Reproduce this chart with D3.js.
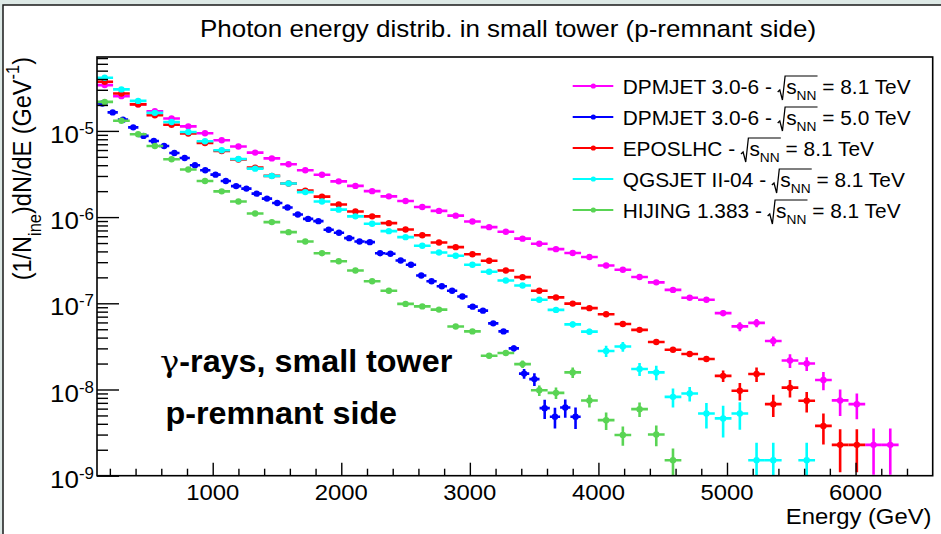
<!DOCTYPE html>
<html>
<head>
<meta charset="utf-8">
<script src="https://cdn.jsdelivr.net/npm/d3@7"></script>
<style>
  html, body { margin: 0; padding: 0; background: #fff; }
  svg text { font-family: "Liberation Sans", Arial, Helvetica, sans-serif; fill: #000; white-space: pre; }
</style>
</head>
<body>
<div id="chart"></div>
<script>
// bin centres in GeV (x_F binning -> 130 GeV bins at 8.1 TeV, 80 GeV bins at 5.0 TeV)
const binCenters81 = [160, 290, 420, 550, 680, 810, 940, 1070, 1200, 1330, 1460, 1590, 1720, 1850, 1980, 2110,
  2240, 2370, 2500, 2630, 2760, 2890, 3020, 3150, 3280, 3410, 3540, 3670, 3800, 3930, 4060, 4190,
  4320, 4450, 4580, 4710, 4840, 4970, 5100, 5230, 5360, 5490, 5620, 5750, 5880, 6010, 6140, 6270];
const binCenters50 = [142, 222, 302, 382, 462, 542, 622, 702, 782, 862, 942, 1022, 1102, 1182, 1262, 1342,
  1422, 1502, 1582, 1662, 1742, 1822, 1902, 1982, 2062, 2142, 2222, 2302, 2382, 2462, 2542, 2622,
  2702, 2782, 2862, 2942, 3022, 3102, 3182, 3262, 3342, 3422, 3502, 3582, 3662, 3742, 3822];
const binWidth81 = 130;
const binWidth50 = 80;

// (1/N_ine) dN/dE values, relative errors next to them
const dpmjet81 = [3.40e-5, 2.53e-5, 2.04e-5, 1.69e-5, 1.39e-5, 1.13e-5, 9.4e-6, 7.8e-6, 6.6e-6, 5.6e-6, 4.8e-6, 4.1e-6,
  3.5e-6, 3.1e-6, 2.6e-6, 2.3e-6, 2.0e-6, 1.74e-6, 1.54e-6, 1.31e-6, 1.18e-6, 1.04e-6, 8.9e-7, 7.65e-7,
  6.77e-7, 5.62e-7, 4.91e-7, 4.25e-7, 3.83e-7, 3.44e-7, 2.74e-7, 2.45e-7, 2.02e-7, 1.75e-7, 1.43e-7, 1.16e-7,
  1.10e-7, 7.7e-8, 5.4e-8, 5.93e-8, 3.65e-8, 2.17e-8, 2.0e-8, 1.29e-8, 7.47e-9, 6.76e-9, 2.28e-9, 2.28e-9];
const dpmjet81Err = [0.01, 0.01, 0.01, 0.01, 0.01, 0.01, 0.01, 0.01, 0.01, 0.01, 0.01, 0.01, 0.01, 0.01, 0.01, 0.01,
  0.01, 0.01, 0.01, 0.01, 0.02, 0.02, 0.02, 0.02, 0.02, 0.02, 0.02, 0.02, 0.02, 0.02, 0.04, 0.04,
  0.04, 0.04, 0.06, 0.06, 0.06, 0.08, 0.12, 0.11, 0.13, 0.18, 0.18, 0.24, 0.34, 0.33, 0.55, 0.55];

const dpmjet50 = [2.08e-5, 1.64e-5, 1.35e-5, 1.10e-5, 8.75e-6, 7.65e-6, 6.69e-6, 5.55e-6, 4.85e-6, 3.99e-6, 3.49e-6, 3.11e-6,
  2.62e-6, 2.29e-6, 2.14e-6, 1.87e-6, 1.64e-6, 1.46e-6, 1.29e-6, 1.07e-6, 9.53e-7, 8.98e-7, 7.14e-7, 6.59e-7,
  5.70e-7, 5.22e-7, 5.12e-7, 3.81e-7, 3.75e-7, 3.14e-7, 2.80e-7, 2.10e-7, 1.80e-7, 1.58e-7, 1.40e-7, 1.20e-7,
  9.15e-8, 8.22e-8, 5.85e-8, 4.72e-8, 3.0e-8, 1.53e-8, 1.32e-8, 6.08e-9, 4.82e-9, 6.18e-9, 4.82e-9];
const dpmjet50Err = [0.01, 0.01, 0.01, 0.01, 0.01, 0.01, 0.01, 0.01, 0.01, 0.01, 0.01, 0.01, 0.01, 0.01, 0.01, 0.01,
  0.01, 0.01, 0.01, 0.01, 0.01, 0.01, 0.01, 0.01, 0.01, 0.01, 0.01, 0.01, 0.01, 0.01, 0.02, 0.02,
  0.02, 0.02, 0.02, 0.02, 0.02, 0.02, 0.04, 0.05, 0.08, 0.13, 0.17, 0.25, 0.27, 0.24, 0.28];

const epos81 = [3.71e-5, 2.72e-5, 2.03e-5, 1.52e-5, 1.18e-5, 9.33e-6, 7.25e-6, 5.85e-6, 4.65e-6, 3.75e-6, 3.01e-6, 2.45e-6,
  2.03e-6, 1.73e-6, 1.40e-6, 1.16e-6, 1.02e-6, 8.51e-7, 7.19e-7, 6.17e-7, 5.08e-7, 4.48e-7, 3.70e-7, 3.12e-7,
  2.40e-7, 2.01e-7, 1.40e-7, 1.17e-7, 9.92e-8, 8.79e-8, 7.45e-8, 5.76e-8, 4.92e-8, 3.56e-8, 2.89e-8, 2.58e-8,
  2.26e-8, 1.44e-8, 9.66e-9, 1.51e-8, 6.76e-9, 1.05e-8, 7.39e-9, 3.78e-9, 2.28e-9, 2.28e-9];
const epos81Err = [0.01, 0.01, 0.01, 0.01, 0.01, 0.01, 0.01, 0.01, 0.01, 0.01, 0.01, 0.01, 0.01, 0.01, 0.01, 0.01,
  0.01, 0.01, 0.01, 0.01, 0.02, 0.02, 0.02, 0.02, 0.02, 0.02, 0.04, 0.04, 0.04, 0.04, 0.05, 0.05,
  0.05, 0.06, 0.06, 0.06, 0.08, 0.15, 0.23, 0.19, 0.29, 0.23, 0.27, 0.39, 0.52, 0.52];

const qgsjet81 = [4.13e-5, 3.03e-5, 2.23e-5, 1.62e-5, 1.27e-5, 9.73e-6, 7.59e-6, 5.96e-6, 4.73e-6, 3.65e-6, 3.0e-6, 2.45e-6,
  1.95e-6, 1.52e-6, 1.22e-6, 1.02e-6, 8.38e-7, 6.87e-7, 5.85e-7, 4.65e-7, 3.89e-7, 3.56e-7, 2.80e-7, 2.32e-7,
  1.84e-7, 1.61e-7, 1.10e-7, 8.38e-8, 5.70e-8, 4.69e-8, 2.80e-8, 3.15e-8, 1.73e-8, 1.58e-8, 8.22e-9, 8.98e-9,
  5.26e-9, 4.62e-9, 5.26e-9, 1.51e-9, 1.51e-9, null, 1.51e-9];
const qgsjet81Err = [0.01, 0.01, 0.01, 0.01, 0.01, 0.01, 0.01, 0.01, 0.01, 0.01, 0.01, 0.01, 0.01, 0.01, 0.01, 0.01,
  0.01, 0.01, 0.01, 0.01, 0.01, 0.01, 0.03, 0.03, 0.03, 0.03, 0.05, 0.06, 0.08, 0.08, 0.15, 0.13,
  0.17, 0.19, 0.25, 0.19, 0.33, 0.40, 0.35, 0.60, 0.60, 0, 0.60];

const hijing81 = [2.17e-5, 1.31e-5, 9.16e-6, 6.69e-6, 4.69e-6, 3.56e-6, 2.62e-6, 1.99e-6, 1.52e-6, 1.10e-6, 8.75e-7, 6.69e-7,
  5.22e-7, 3.81e-7, 3.08e-7, 2.40e-7, 1.80e-7, 1.40e-7, 9.84e-8, 9.2e-8, 8.45e-8, 5.38e-8, 4.72e-8, 2.46e-8,
  2.65e-8, 1.97e-8, 9.79e-9, 9.15e-9, 1.58e-8, 7.45e-9, 4.41e-9, 2.97e-9, 5.92e-9, 3.01e-9, 1.51e-9];
const hijing81Err = [0.01, 0.01, 0.01, 0.01, 0.01, 0.01, 0.01, 0.01, 0.01, 0.01, 0.01, 0.01, 0.01, 0.01, 0.01, 0.03,
  0.03, 0.03, 0.04, 0.04, 0.04, 0.05, 0.05, 0.07, 0.07, 0.10, 0.14, 0.15, 0.14, 0.17, 0.23, 0.25,
  0.19, 0.27, 0.37];

const legendNames = ['DPMJET 3.0-6 - ', 'DPMJET 3.0-6 - ', 'EPOSLHC - ', 'QGSJET II-04 - ', 'HIJING 1.383 - '];
const legendEnergies = ['8.1', '5.0', '8.1', '8.1', '8.1'];
const xTickLabels = [1000, 2000, 3000, 4000, 5000, 6000];
const yDecades = [1e-9, 1e-8, 1e-7, 1e-6, 1e-5];

const series = [
  { centers: binCenters81, binWidth: binWidth81, values: dpmjet81, errors: dpmjet81Err, color: '#ff00ff' },
  { centers: binCenters50, binWidth: binWidth50, values: dpmjet50, errors: dpmjet50Err, color: '#0000ff' },
  { centers: binCenters81, binWidth: binWidth81, values: epos81, errors: epos81Err, color: '#ff0000' },
  { centers: binCenters81, binWidth: binWidth81, values: qgsjet81, errors: qgsjet81Err, color: '#00ffff' },
  { centers: binCenters81, binWidth: binWidth81, values: hijing81, errors: hijing81Err, color: '#59d454' }
];

const width = 941, height = 534;
const frame = { left: 97, right: 932.7, top: 57, bottom: 475.7 };
const stretch = 1.06; // the picture is a bit wider than tall, text too

const svg = d3.select('#chart')
  .append('svg')
  .attr('width', width)
  .attr('height', height);

// slide background + canvas border
svg.append('rect').attr('width', width).attr('height', height).attr('fill', '#dde9e6');
svg.append('rect')
  .attr('x', 3).attr('y', 5)
  .attr('width', width).attr('height', height)
  .attr('fill', '#fff')
  .attr('stroke', '#1a1a1a')
  .attr('stroke-width', 1.5);

const x = d3.scaleLinear().domain([100, 6600]).range([frame.left, frame.right]);
const y = d3.scaleLog().domain([1e-9, 7.2e-5]).range([frame.bottom, frame.top]);

function stretchedText(parent, px, py, size, anchor, extra = '') {
  return parent.append('g')
    .attr('transform', `translate(${px},${py}) scale(${stretch},1)${extra}`)
    .append('text')
    .attr('font-size', size)
    .attr('text-anchor', anchor);
}

// data
svg.append('clipPath').attr('id', 'plot-clip')
  .append('rect')
  .attr('x', frame.left).attr('y', frame.top)
  .attr('width', frame.right - frame.left)
  .attr('height', frame.bottom - frame.top);

const plot = svg.append('g').attr('clip-path', 'url(#plot-clip)');

series.forEach(s => {
  const pts = s.values
    .map((v, i) => ({ e: s.centers[i], v: v, err: s.errors[i] * (v || 0) }))
    .filter(d => d.v != null);

  const g = plot.append('g').attr('stroke', s.color).attr('fill', s.color).attr('stroke-width', 2.6);

  g.selectAll('line.h')
    .data(pts)
    .enter()
    .append('line')
    .attr('class', 'h')
    .attr('x1', d => x(d.e - s.binWidth / 2))
    .attr('x2', d => x(d.e + s.binWidth / 2))
    .attr('y1', d => y(d.v))
    .attr('y2', d => y(d.v));

  g.selectAll('line.v')
    .data(pts)
    .enter()
    .append('line')
    .attr('class', 'v')
    .attr('x1', d => x(d.e))
    .attr('x2', d => x(d.e))
    .attr('y1', d => d.v - d.err > 1e-9 ? y(d.v - d.err) : frame.bottom + 5)
    .attr('y2', d => y(d.v + d.err));

  g.selectAll('circle')
    .data(pts)
    .enter()
    .append('circle')
    .attr('stroke', 'none')
    .attr('cx', d => x(d.e))
    .attr('cy', d => y(d.v))
    .attr('r', 3.2);
});

// axes: ROOT style ticks inside the frame
const xMinor = d3.range(200, 6600, 200).filter(v => v % 1000 !== 0);
const yMinor = [];
yDecades.forEach(d => {
  for (let m = 2; m <= 9; m++) {
    if (m * d <= 7.2e-5) yMinor.push(m * d);
  }
});

const axes = svg.append('g').attr('stroke-width', 1.4);

axes.append('g')
  .attr('transform', `translate(0,${frame.bottom})`)
  .call(d3.axisBottom(x).tickValues(xTickLabels).tickSize(-13).tickFormat(''));
axes.append('g')
  .attr('transform', `translate(0,${frame.bottom})`)
  .call(d3.axisBottom(x).tickValues(xMinor).tickSize(-7).tickFormat(''));
axes.append('g')
  .attr('transform', `translate(${frame.left},0)`)
  .call(d3.axisLeft(y).tickValues(yDecades).tickSize(-22).tickFormat(''));
axes.append('g')
  .attr('transform', `translate(${frame.left},0)`)
  .call(d3.axisLeft(y).tickValues(yMinor).tickSize(-11).tickFormat(''));

axes.selectAll('.domain').remove();
axes.selectAll('.tick line').attr('stroke', '#000').attr('stroke-width', 1.4);

svg.append('rect')
  .attr('x', frame.left).attr('y', frame.top)
  .attr('width', frame.right - frame.left)
  .attr('height', frame.bottom - frame.top)
  .attr('fill', 'none')
  .attr('stroke', '#000')
  .attr('stroke-width', 1.6);

// tick labels
xTickLabels.forEach(v => {
  stretchedText(svg, x(v), 500, 22.5, 'middle').text(v);
});

yDecades.forEach(v => {
  const t = stretchedText(svg, frame.left - 3, y(v) + 12, 24.5, 'end');
  t.append('tspan').text('10');
  t.append('tspan').attr('font-size', 16).attr('dy', -9).text(Math.round(Math.log10(v)));
});

// titles
stretchedText(svg, 508, 37, 24.5, 'middle')
  .text('Photon energy distrib. in small tower (p-remnant side)');

stretchedText(svg, 931.5, 523.5, 22.5, 'end').text('Energy (GeV)');

const yTitle = stretchedText(svg, 31, 57, 23.5, 'end', ' rotate(-90)');
yTitle.append('tspan').text('(1/N');
yTitle.append('tspan').attr('font-size', 16.5).attr('dy', 9).text('ine');
yTitle.append('tspan').attr('dy', -9).text(')dN/dE (GeV');
yTitle.append('tspan').attr('font-size', 16.5).attr('dy', -11).text('-1');
yTitle.append('tspan').attr('dy', 11).text(')');

// annotation
const ann1 = stretchedText(svg, 160, 371.7, 30.5, 'start').attr('font-weight', 'bold');
ann1.append('tspan').attr('font-weight', 'normal').attr('font-family', '"DejaVu Serif", "Liberation Serif", serif').text('γ');
ann1.append('tspan').text('-rays, small tower');
stretchedText(svg, 165.5, 424, 30.5, 'start').attr('font-weight', 'bold').text('p-remnant side');

// legend
const legend = svg.append('g');
legendNames.forEach((name, i) => {
  const yRow = 86 + 31 * i;
  const s = series[i];

  legend.append('line')
    .attr('x1', 572.7).attr('x2', 613.3)
    .attr('y1', yRow).attr('y2', yRow)
    .attr('stroke', s.color)
    .attr('stroke-width', 2.2);
  legend.append('circle')
    .attr('cx', 593.3).attr('cy', yRow)
    .attr('r', 2.6)
    .attr('fill', s.color);

  const t = stretchedText(legend, 622.7, yRow + 8, 19.7, 'start');
  t.append('tspan').text(name);
  t.append('tspan').attr('dx', 8).text('s');
  t.append('tspan').attr('font-size', 13).attr('dy', 6).text('NN');
  t.append('tspan').attr('dy', -6).text(` = ${legendEnergies[i]} TeV`);

  // radical sign with bar over s_NN
  const node = t.node();
  const p0 = node.getStartPositionOfChar(name.length);
  const p1 = node.getEndPositionOfChar(name.length + 2);
  const xr = p0.x - 8;
  d3.select(node.parentNode).append('path')
    .attr('d', `M${xr},-2 L${xr + 2},-4 L${xr + 4.5},6 L${xr + 7},-18 L${p1.x + 1},-18`)
    .attr('fill', 'none')
    .attr('stroke', '#000')
    .attr('stroke-width', 1.2);
});
</script>
</body>
</html>
